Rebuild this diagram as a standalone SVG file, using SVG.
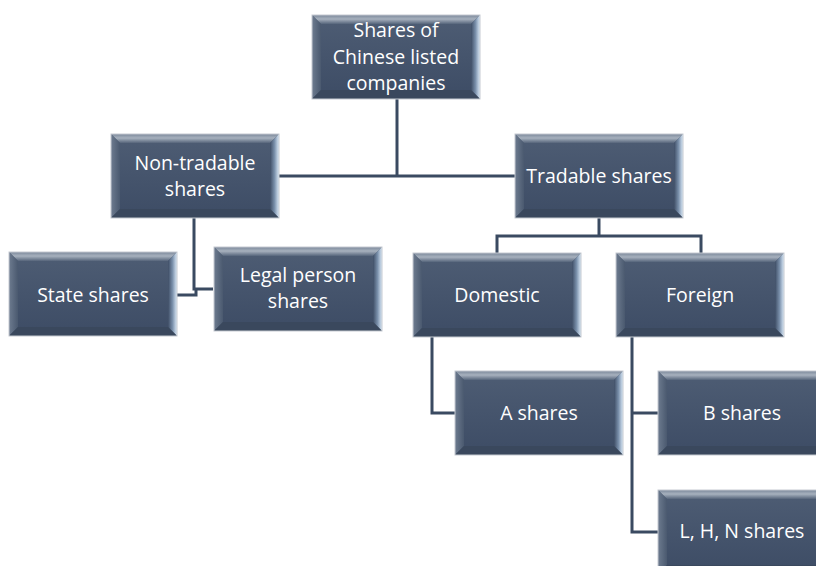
<svg xmlns="http://www.w3.org/2000/svg" xmlns:xlink="http://www.w3.org/1999/xlink" width="816" height="566" viewBox="0 0 816 566">
<style>
  .lbl { font-family: "Open Sans", "Liberation Sans", sans-serif; font-size: 19.5px; fill: #ffffff; text-anchor: middle; }
  .conn { fill: none; stroke: #3a4a61; stroke-width: 3; }
</style>
<defs>
  <linearGradient id="face" x1="0" y1="0" x2="0" y2="1">
    <stop offset="0" stop-color="#4e5d74"/>
    <stop offset="1" stop-color="#3d4c65"/>
  </linearGradient>
  <linearGradient id="topb" x1="0" y1="0" x2="0" y2="1">
    <stop offset="0" stop-color="#7b889a"/>
    <stop offset="0.45" stop-color="#a7b1be"/>
    <stop offset="1" stop-color="#56657b"/>
  </linearGradient>
  <linearGradient id="rightb" x1="0" y1="0" x2="1" y2="0">
    <stop offset="0" stop-color="#3f4e66"/>
    <stop offset="0.5" stop-color="#7a90ab"/>
    <stop offset="1" stop-color="#dbe9f7"/>
  </linearGradient>
  <linearGradient id="leftb" x1="0" y1="0" x2="1" y2="0">
    <stop offset="0" stop-color="#6d7b8f"/>
    <stop offset="1" stop-color="#4a596f"/>
  </linearGradient>
  <g id="box">
    <rect x="0" y="0" width="168" height="84" fill="url(#face)"/>
    <polygon points="0,0 168,0 159,9 9,9" fill="url(#topb)"/>
    <polygon points="0,0 9,9 9,75 0,84" fill="url(#leftb)"/>
    <polygon points="168,0 168,84 159,75 159,9" fill="url(#rightb)"/>
    <polygon points="0,84 9,75 159,75 168,84" fill="#3a485d"/>
    <rect x="0" y="0" width="168" height="84" fill="none" stroke="#c5cad1" stroke-width="1"/>
  </g>
</defs>
<rect width="816" height="566" fill="#ffffff"/>
<g id="connectors">
  <path class="conn" d="M397,99 V176"/>
  <path class="conn" d="M278,176 H515"/>
  <path class="conn" d="M194,218 V289 H213"/>
  <path class="conn" d="M177,295 H196 V289"/>
  <path class="conn" d="M599,218 V236"/>
  <path class="conn" d="M497,253 V236 H701 V253"/>
  <path class="conn" d="M432,336 V413 H455"/>
  <path class="conn" d="M632,336 V532 H658"/>
  <path class="conn" d="M632,413 H658"/>
</g>
<g id="n-root">
  <use xlink:href="#box" x="312" y="15"/>
  <text class="lbl" x="396" y="37">Shares of</text>
  <text class="lbl" x="396" y="63.5">Chinese listed</text>
  <text class="lbl" x="396" y="90">companies</text>
</g>
<g id="n-nontradable">
  <use xlink:href="#box" x="111" y="134"/>
  <text class="lbl" x="195" y="169.5">Non-tradable</text>
  <text class="lbl" x="195" y="196">shares</text>
</g>
<g id="n-tradable">
  <use xlink:href="#box" x="515" y="134"/>
  <text class="lbl" x="599" y="183">Tradable shares</text>
</g>
<g id="n-state">
  <use xlink:href="#box" x="9" y="252"/>
  <text class="lbl" x="93" y="302">State shares</text>
</g>
<g id="n-legal">
  <use xlink:href="#box" x="214" y="247"/>
  <text class="lbl" x="298" y="281.5">Legal person</text>
  <text class="lbl" x="298" y="308">shares</text>
</g>
<g id="n-domestic">
  <use xlink:href="#box" x="413" y="253"/>
  <text class="lbl" x="497" y="302">Domestic</text>
</g>
<g id="n-foreign">
  <use xlink:href="#box" x="616" y="253"/>
  <text class="lbl" x="700" y="302">Foreign</text>
</g>
<g id="n-a">
  <use xlink:href="#box" x="455" y="371"/>
  <text class="lbl" x="539" y="420">A shares</text>
</g>
<g id="n-b">
  <use xlink:href="#box" x="658" y="371"/>
  <text class="lbl" x="742" y="420">B shares</text>
</g>
<g id="n-lhn">
  <use xlink:href="#box" x="658" y="490"/>
  <text class="lbl" x="742" y="538">L, H, N shares</text>
</g>
</svg>
